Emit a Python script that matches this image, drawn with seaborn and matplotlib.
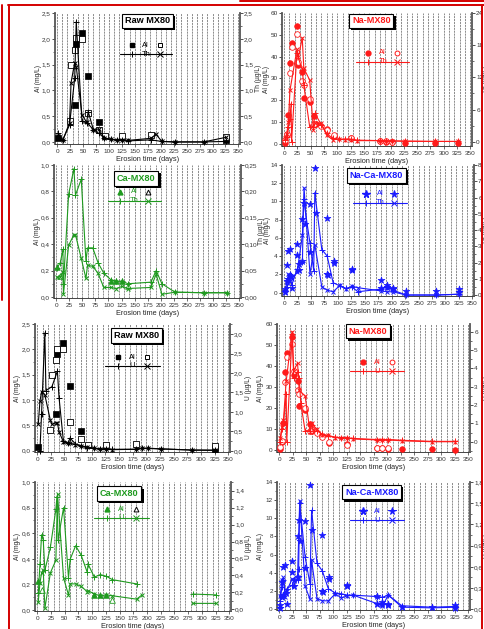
import matplotlib
matplotlib.use('Agg')
import matplotlib.pyplot as plt
import matplotlib.patheffects as pe
from matplotlib.lines import Line2D
from matplotlib.ticker import FuncFormatter, MultipleLocator, AutoMinorLocator
import numpy as np
import seaborn as sns

sns.set_style('ticks')
plt.rcParams['font.family'] = ['Liberation Sans', 'DejaVu Sans']

nan = np.nan

# ---- Raw MX80 ----
raw_al_a_t = [2, 34, 37, 48, 60, 80, 326]
raw_al_a = [0.07, 0.72, 1.90, 2.12, 1.28, 0.39, 0.04]
raw_al_b_t = [24, 27, 34, 37, 48, 60, 80, 93, 126, 181, 326]
raw_al_b = [0.41, 1.50, 1.78, 2.01, 2.00, 0.57, 0.24, 0.12, 0.12, 0.14, 0.10]
raw_th_a_t = [2, 11, 24, 34, 37, 48, 57, 60, 70, 80, 91, 104, 115, 126, 137, 181, 202, 227, 283, 326]
raw_th_a = [0.17, 0.04, 0.33, 1.23, 2.33, 0.40, 0.37, 0.59, 0.24, 0.17, 0.08, 0.05, 0.04, 0.03, 0.02, 0.04, 0.01, 0.0, 0.0, 0.01]
raw_th_b_t = [2, 11, 24, 27, 34, 37, 48, 57, 70, 80, 91, 104, 115, 126, 137, 181, 191, 202, 227, 283, 326]
raw_th_b = [0.11, 0.03, 0.37, 1.15, 1.54, 1.46, 0.53, 0.38, 0.24, 0.25, 0.08, 0.05, 0.04, 0.04, 0.03, 0.07, 0.15, 0.01, 0.0, 0.0, 0.09]
raw_u_a_t = [5, 8, 14, 16, 27, 37, 40, 48, 57, 60, 70, 80, 91, 104, 115, 126, 137, 181, 191, 202, 227, 283, 326]
raw_u_a = [0.0, 0.95, 3.03, 1.55, 1.65, 2.05, 1.37, 0.25, 0.2, 0.33, 0.18, 0.12, 0.08, 0.06, 0.05, 0.05, 0.04, 0.04, 0.06, 0.06, 0.05, 0.02, 0.02]
raw_u_b_t = [2, 5, 8, 14, 24, 27, 34, 37, 40, 48, 57, 60, 70, 80, 91, 104, 115, 126, 137, 181, 191, 202, 227, 283, 326]
raw_u_b = [0.69, 1.27, 1.52, 1.44, 0.79, 0.68, 0.72, 0.72, 0.49, 0.23, 0.19, 0.2, 0.16, 0.13, 0.1, 0.07, 0.05, 0.04, 0.03, 0.04, 0.07, 0.07, 0.05, 0.02, 0.01]

# ---- Na-MX80 ----
na_al_a_t = [2, 5, 8, 11, 14, 24, 27, 34, 37, 48, 57, 60, 80, 93, 126, 181, 191, 202, 227, 283, 326]
na_al_a = [0.5, 4.0, 13.0, 37.0, 46.0, 54.0, 36.0, 33.0, 21.0, 19.0, 12.5, 9.0, 6.6, 3.7, 2.8, 1.2, 0.9, 0.8, 0.4, 0.4, 0.3]
na_al_b_t = [2, 5, 11, 14, 24, 27, 34, 37, 48, 57, 70, 80, 93, 126, 181, 191, 202]
na_al_b = [1.5, 4.5, 32.5, 44.5, 50.3, 37.7, 28.7, 26.8, 20.3, 9.0, 8.0, 6.2, 4.0, 2.5, 1.3, 1.1, 0.9]
na_th_a_t = [2, 5, 8, 11, 13, 14, 24, 34, 37, 48, 55, 58, 70, 80, 91, 104, 115, 126, 137, 181, 191, 202, 227, 283, 326]
na_th_a = [0.3, 0.9, 2.8, 4.3, 7.1, 0.0, 16.5, 13.4, 10.5, 2.8, 2.8, 5.3, 3.1, 1.55, 0.6, 0.45, 0.5, 0.45, 0.3, 0.2, 0.15, 0.15, 0.1, 0.05, 0.05]
na_th_b_t = [2, 5, 8, 11, 24, 27, 34, 37, 48, 55, 58, 70, 80, 91, 104, 115, 126, 137, 181, 191, 202, 227, 283, 326]
na_th_b = [0.6, 1.5, 3.7, 9.6, 17.2, 15.8, 19.4, 13.7, 11.5, 2.2, 3.5, 3.4, 1.2, 0.4, 0.45, 0.4, 0.35, 0.2, 0.2, 0.15, 0.15, 0.1, 0.05, 0.05]
na_u_a_t = [2, 5, 8, 13, 14, 24, 27, 34, 37, 40, 48, 57, 60, 70, 80, 91, 104, 115, 126, 137, 181, 191, 202, 227, 283, 326]
na_u_a = [0.0, 0.7, 1.0, 2.6, 0.0, 5.85, 3.45, 3.8, 3.5, 2.1, 0.6, 0.6, 0.9, 0.6, 0.4, 0.3, 0.25, 0.22, 0.2, 0.18, 0.12, 0.12, 0.12, 0.08, 0.02, 0.02]
na_u_b_t = [2, 5, 8, 13, 24, 27, 34, 37, 48, 57, 60, 70, 80, 91, 104, 115, 126, 137, 181, 191, 202, 227, 283, 326]
na_u_b = [0.2, 0.8, 1.2, 3.3, 6.0, 3.85, 4.3, 2.8, 2.5, 0.55, 1.0, 0.67, 0.36, 0.36, 0.22, 0.22, 0.22, 0.15, 0.1, 0.1, 0.1, 0.05, 0.0, 0.0]

# ---- Ca-MX80 ----
ca_al_a_t = [2, 104, 115, 126]
ca_al_a = [0.23, 0.12, 0.12, 0.12]
ca_al_b_t = [8, 137]
ca_al_b = [0.16, 0.08]
ca_th_a_t = [2, 8, 13, 14, 24, 34, 37, 48, 57, 60, 70, 80, 91, 104, 115, 126, 137, 181, 191, 202, 227, 283, 326]
ca_th_a = [0.055, 0.065, 0.09, 0.025, 0.195, 0.243, 0.193, 0.223, 0.068, 0.093, 0.093, 0.065, 0.045, 0.033, 0.03, 0.03, 0.025, 0.028, 0.05, 0.025, 0.009, 0.008, 0.008]
ca_th_b_t = [2, 8, 13, 14, 24, 34, 37, 48, 57, 60, 70, 80, 91, 104, 115, 126, 137, 181, 191, 202, 227, 283, 326]
ca_th_b = [0.038, 0.038, 0.048, 0.005, 0.098, 0.118, 0.118, 0.073, 0.035, 0.06, 0.058, 0.045, 0.018, 0.018, 0.016, 0.02, 0.016, 0.018, 0.043, 0.005, 0.009, 0.008, 0.008]
ca_u_a_t = [2, 5, 8, 11, 14, 24, 34, 36, 38, 48, 57, 60, 70, 80, 91, 93, 104, 115, 126, 137, 181, 230, 283, 326]
ca_u_a = [0.19, 0.53, 0.88, 0.82, 0.46, 0.73, 1.18, 1.33, 0.82, 1.2, 0.37, 0.59, 0.75, 0.64, 0.44, 0.53, 0.38, 0.41, 0.39, 0.35, 0.30, nan, 0.18, 0.17]
ca_u_b_t = [2, 5, 8, 11, 14, 24, 34, 37, 48, 57, 60, 70, 80, 91, 93, 104, 115, 126, 137, 181, 191, 230, 283, 326]
ca_u_b = [0.09, 0.31, 0.43, 0.46, 0.01, 0.43, 0.58, 1.36, 0.37, 0.17, 0.3, 0.3, 0.27, 0.21, 0.22, 0.18, 0.16, 0.17, 0.16, 0.12, 0.17, nan, 0.07, 0.07]

# ---- Na-Ca-MX80 ----
naca_al_a_t = [2, 5, 8, 11, 14, 24, 27, 34, 36, 38, 48, 57, 60, 79, 81, 93, 126, 181, 191, 202, 227, 283, 326]
naca_al_a = [0.4, 3.0, 4.6, 4.8, 0.5, 5.3, 3.2, 8.1, 9.8, 7.5, 9.7, 13.7, 8.7, 8.2, 1.9, 3.5, 2.6, 1.4, 0.8, 0.55, 0.2, 0.2, 0.4]
naca_al_b_t = [2, 5, 8, 13, 24, 27, 34, 48, 80, 93, 126, 181, 191, 202, 326]
naca_al_b = [0.1, 1.3, 1.5, 1.8, 4.1, 2.5, 3.5, 4.5, 2.0, 3.3, 2.5, 0.5, 0.6, 0.4, 0.1]
naca_th_a_t = [2, 5, 8, 11, 14, 24, 34, 36, 48, 55, 57, 70, 80, 91, 104, 115, 126, 137, 181, 191, 202, 227, 283, 326]
naca_th_a = [0.3, 0.5, 0.8, 1.3, 0.6, 1.6, 2.05, 5.9, 3.2, 1.5, 6.3, 2.8, 2.4, 0.76, 0.55, 0.41, 0.5, 0.2, 0.37, 0.5, 0.3, 0.0, 0.0, 0.05]
naca_th_b_t = [2, 5, 8, 11, 14, 24, 34, 37, 48, 57, 70, 80, 91, 104, 115, 126, 137, 181, 191, 202, 227, 283, 326]
naca_th_b = [0.16, 0.8, 1.3, 1.1, 1.0, 1.4, 3.7, 6.6, 1.3, 3.1, 0.5, 0.3, 0.2, 0.6, 0.35, 0.55, 0.45, 0.25, 0.2, 0.2, 0.0, 0.0, 0.05]
naca_u_a_t = [2, 5, 8, 11, 14, 24, 34, 36, 38, 48, 57, 60, 70, 80, 91, 104, 115, 126, 137, 181, 191, 202, 227, 283, 326]
naca_u_a = [0.12, 0.31, 0.41, 0.22, 0.29, 0.34, 0.41, 0.57, 1.5, 0.74, 0.36, 1.4, 0.65, 0.54, 0.29, 0.23, 0.22, 0.2, 0.2, 0.18, 0.17, 0.2, 0.05, 0.03, 0.04]
naca_u_b_t = [2, 5, 8, 11, 14, 24, 34, 38, 48, 57, 60, 70, 80, 91, 104, 115, 126, 137, 181, 191, 202, 227, 283, 326]
naca_u_b = [0.19, 0.41, 0.45, 0.17, 0.26, 0.43, 0.45, 1.53, 0.33, 0.14, 0.69, 0.15, 0.12, 0.12, 0.22, 0.16, 0.19, 0.2, 0.08, 0.05, 0.2, 0.03, 0.02, 0.03]

grid_days = list(range(0, 351, 10))
x_ticks = list(range(0, 351, 25))

W, H = 484, 629
fig = plt.figure(figsize=(W / 100, H / 100), dpi=100)
FS = 4.6
LFS = 4.8


def rect(l, t, r, b):
    return [l / W, (H - b) / H, (r - l) / W, (b - t) / H]


def comma(nd):
    return FuncFormatter(lambda v, p: f'{v:.{nd}f}'.replace('.', ','))


def style_axis(a, lim, step, nd):
    a.set_ylim(*lim)
    a.yaxis.set_major_locator(MultipleLocator(step))
    a.yaxis.set_minor_locator(AutoMinorLocator(2))
    a.yaxis.set_major_formatter(comma(nd))
    a.tick_params(axis='y', which='major', labelsize=FS, length=2, width=0.6, pad=1, colors='#333333')
    a.tick_params(axis='y', which='minor', length=1.3, width=0.5, colors='#333333')


def panel(pos, lab_x, color, name, al_a, al_b, ln_a, ln_b, mk, elem, ylim_l, st_l, nd_l,
          ylim_r, st_r, nd_r, box_xy, leg_xy, ms=3.2):
    l, t, r, b = pos
    ax = fig.add_axes(rect(*pos))
    ax.set_xlim(-4, 353)
    for d in grid_days:
        ax.axvline(d, color='#7a7a7a', lw=0.6, ls=(0, (2.5, 1)), zorder=0)
    ax.set_xticks(x_ticks)
    ax.tick_params(axis='x', labelsize=FS, length=2, width=0.5, pad=1.5, colors='#333333')
    style_axis(ax, ylim_l, st_l, nd_l)
    ax.set_ylabel('Al (mg/L)', fontsize=LFS)
    ax.yaxis.set_label_coords((lab_x[0] - l) / (r - l), 0.5)
    ax.set_xlabel('Erosion time (days)', fontsize=5.3, labelpad=1.5)
    for s in ['top', 'right']:
        ax.spines[s].set_visible(False)
    ax.spines['left'].set_linewidth(1.3)
    ax.spines['left'].set_color('#555555')
    ax.spines['bottom'].set_linewidth(0.6)

    open_edge = 'black' if color in ('black', GREEN) else color

    # Al: filled and open markers
    sns.scatterplot(x=al_a[0], y=al_a[1], ax=ax, marker=mk, s=ms ** 2 * 1.6,
                    color=color, edgecolor=color, linewidth=0.5, zorder=3, clip_on=False)
    sns.scatterplot(x=al_b[0], y=al_b[1], ax=ax, marker=mk, s=ms ** 2 * 1.6,
                    facecolor='white' if mk != '*' else color, edgecolor=color,
                    linewidth=0.6, zorder=3, clip_on=False)

    ax2 = ax.twinx()
    ax2.set_xlim(-4, 353)
    ax2.plot(ln_a[0], ln_a[1], color=color, lw=0.8, marker='+', ms=4, mew=0.7, clip_on=False)
    ax2.plot(ln_b[0], ln_b[1], color=color, lw=0.8, marker='x', ms=3.5, mew=0.7, clip_on=False)
    style_axis(ax2, ylim_r, st_r, nd_r)
    ax2.set_ylabel(f'{elem} (µg/L)', fontsize=LFS)
    ax2.yaxis.set_label_coords((lab_x[1] - l) / (r - l), 0.5)
    for s in ['top', 'left', 'bottom']:
        ax2.spines[s].set_visible(False)
    ax2.spines['right'].set_linewidth(1.3)
    ax2.spines['right'].set_color('#555555')

    # title box with shadow
    bx, by = box_xy
    tt = ax2.text(bx, by, name, transform=ax2.transAxes, ha='center', va='center', fontsize=6.6,
                  fontweight='bold', color=color,
                  bbox=dict(boxstyle='square,pad=0.3', fc='white', ec='black', lw=0.8))
    tt.get_bbox_patch().set_path_effects([
        pe.SimplePatchShadow(offset=(1.6, -1.6), shadow_rgbFace='black', alpha=1.0), pe.Normal()])

    # legend glyphs
    lx, ly = leg_xy
    dx, dy = 0.075, 0.068
    tr = ax2.transAxes
    mks = ms + (1.6 if mk == '*' else 0.3)
    ax2.plot([lx - dx], [ly], transform=tr, marker=mk, ms=mks, color=color, ls='none', clip_on=False)
    ax2.plot([lx + dx], [ly], transform=tr, marker=mk, ms=mks,
             mfc='white' if mk != '*' else color, mec=open_edge if mk != '*' else color,
             mew=0.7, ls='none', clip_on=False)
    ax2.text(lx, ly, 'Al', transform=tr, ha='center', va='center', fontsize=5.4, color=color)
    ax2.plot([lx - 0.14, lx + 0.14], [ly - dy, ly - dy], transform=tr, color=color, lw=0.8, clip_on=False)
    ax2.plot([lx - dx], [ly - dy], transform=tr, marker='+', ms=4.5, mew=0.7, color=color, clip_on=False)
    ax2.plot([lx + dx], [ly - dy], transform=tr, marker='x', ms=4, mew=0.7, color=color, clip_on=False)
    ax2.text(lx, ly - dy, elem, transform=tr, ha='center', va='center', fontsize=5.4, color=color)
    return ax, ax2


BLACK, RED, GREEN, BLUE = 'black', '#ff1a1a', '#1f9a1f', '#1a1aff'

panel((55, 13, 240, 144), (41.5, 254.5), BLACK, 'Raw MX80', (raw_al_a_t, raw_al_a), (raw_al_b_t, raw_al_b),
      (raw_th_a_t, raw_th_a), (raw_th_b_t, raw_th_b), 's', 'Th',
      (-0.04, 2.5), 0.5, 1, (-0.04, 2.5), 0.5, 1, (0.50, 0.94), (0.49, 0.755))
panel((282, 13, 472, 146), (270.5, 483), RED, 'Na-MX80', (na_al_a_t, na_al_a), (na_al_b_t, na_al_b),
      (na_th_a_t, na_th_a), (na_th_b_t, na_th_b), 'o', 'Th',
      (-1.05, 60), 10, 0, (-0.8, 24), 6, 0, (0.47, 0.94), (0.53, 0.70))
panel((54, 165, 241, 298), (41, 258), GREEN, 'Ca-MX80', (ca_al_a_t, ca_al_a), (ca_al_b_t, ca_al_b),
      (ca_th_a_t, ca_th_a), (ca_th_b_t, ca_th_b), '^', 'Th',
      (-0.008, 1.0), 0.2, 1, (-0.002, 0.25), 0.05, 2, (0.44, 0.90), (0.43, 0.80))
panel((282, 165, 474, 296), (271, 483), BLUE, 'Na-Ca-MX80', (naca_al_a_t, naca_al_a), (naca_al_b_t, naca_al_b),
      (naca_th_a_t, naca_th_a), (naca_th_b_t, naca_th_b), '*', 'Th',
      (-0.36, 14), 2, 0, (-0.06, 8), 1, 0, (0.49, 0.92), (0.51, 0.78), ms=4)
panel((35, 324, 230, 452), (21, 245), BLACK, 'Raw MX80', (raw_al_a_t, raw_al_a), (raw_al_b_t, raw_al_b),
      (raw_u_a_t, raw_u_a), (raw_u_b_t, raw_u_b), 's', 'U',
      (-0.026, 2.5), 0.5, 1, (-0.03, 3.26), 0.5, 1, (0.52, 0.91), (0.50, 0.74))
panel((277, 324, 470, 452), (264, 483), RED, 'Na-MX80', (na_al_a_t, na_al_a), (na_al_b_t, na_al_b),
      (na_u_a_t, na_u_a), (na_u_b_t, na_u_b), 'o', 'U',
      (-0.8, 60), 10, 0, (-0.56, 6.42), 1, 0, (0.47, 0.945), (0.52, 0.70))
panel((35, 482, 231, 611), (21, 245), GREEN, 'Ca-MX80', (ca_al_a_t, ca_al_a), (ca_al_b_t, ca_al_b),
      (ca_u_a_t, ca_u_a), (ca_u_b_t, ca_u_b), '^', 'U',
      (-0.008, 1.0), 0.2, 1, (-0.02, 1.503), 0.2, 1, (0.43, 0.91), (0.44, 0.79))
panel((277, 482, 470, 610), (264, 483), BLUE, 'Na-Ca-MX80', (naca_al_a_t, naca_al_a), (naca_al_b_t, naca_al_b),
      (naca_u_a_t, naca_u_a), (naca_u_b_t, naca_u_b), '*', 'U',
      (-0.11, 14), 2, 0, (-0.01, 1.8), 0.3, 1, (0.49, 0.92), (0.52, 0.77), ms=4)

# red frame lines of the page
RF = '#d40000'


def hline(y, x0, x1):
    fig.add_artist(Line2D([x0 / W, x1 / W], [1 - y / H, 1 - y / H], color=RF, lw=1.4))


def vline(x, y0, y1):
    fig.add_artist(Line2D([x / W, x / W], [1 - y0 / H, 1 - y1 / H], color=RF, lw=1.4))


hline(1, 240, 484)
hline(4.5, 8, 484)
vline(1.5, 5, 300)
vline(9, 4.5, 629)
vline(481.5, 4.5, 629)

fig.savefig('out.png', dpi=100)
